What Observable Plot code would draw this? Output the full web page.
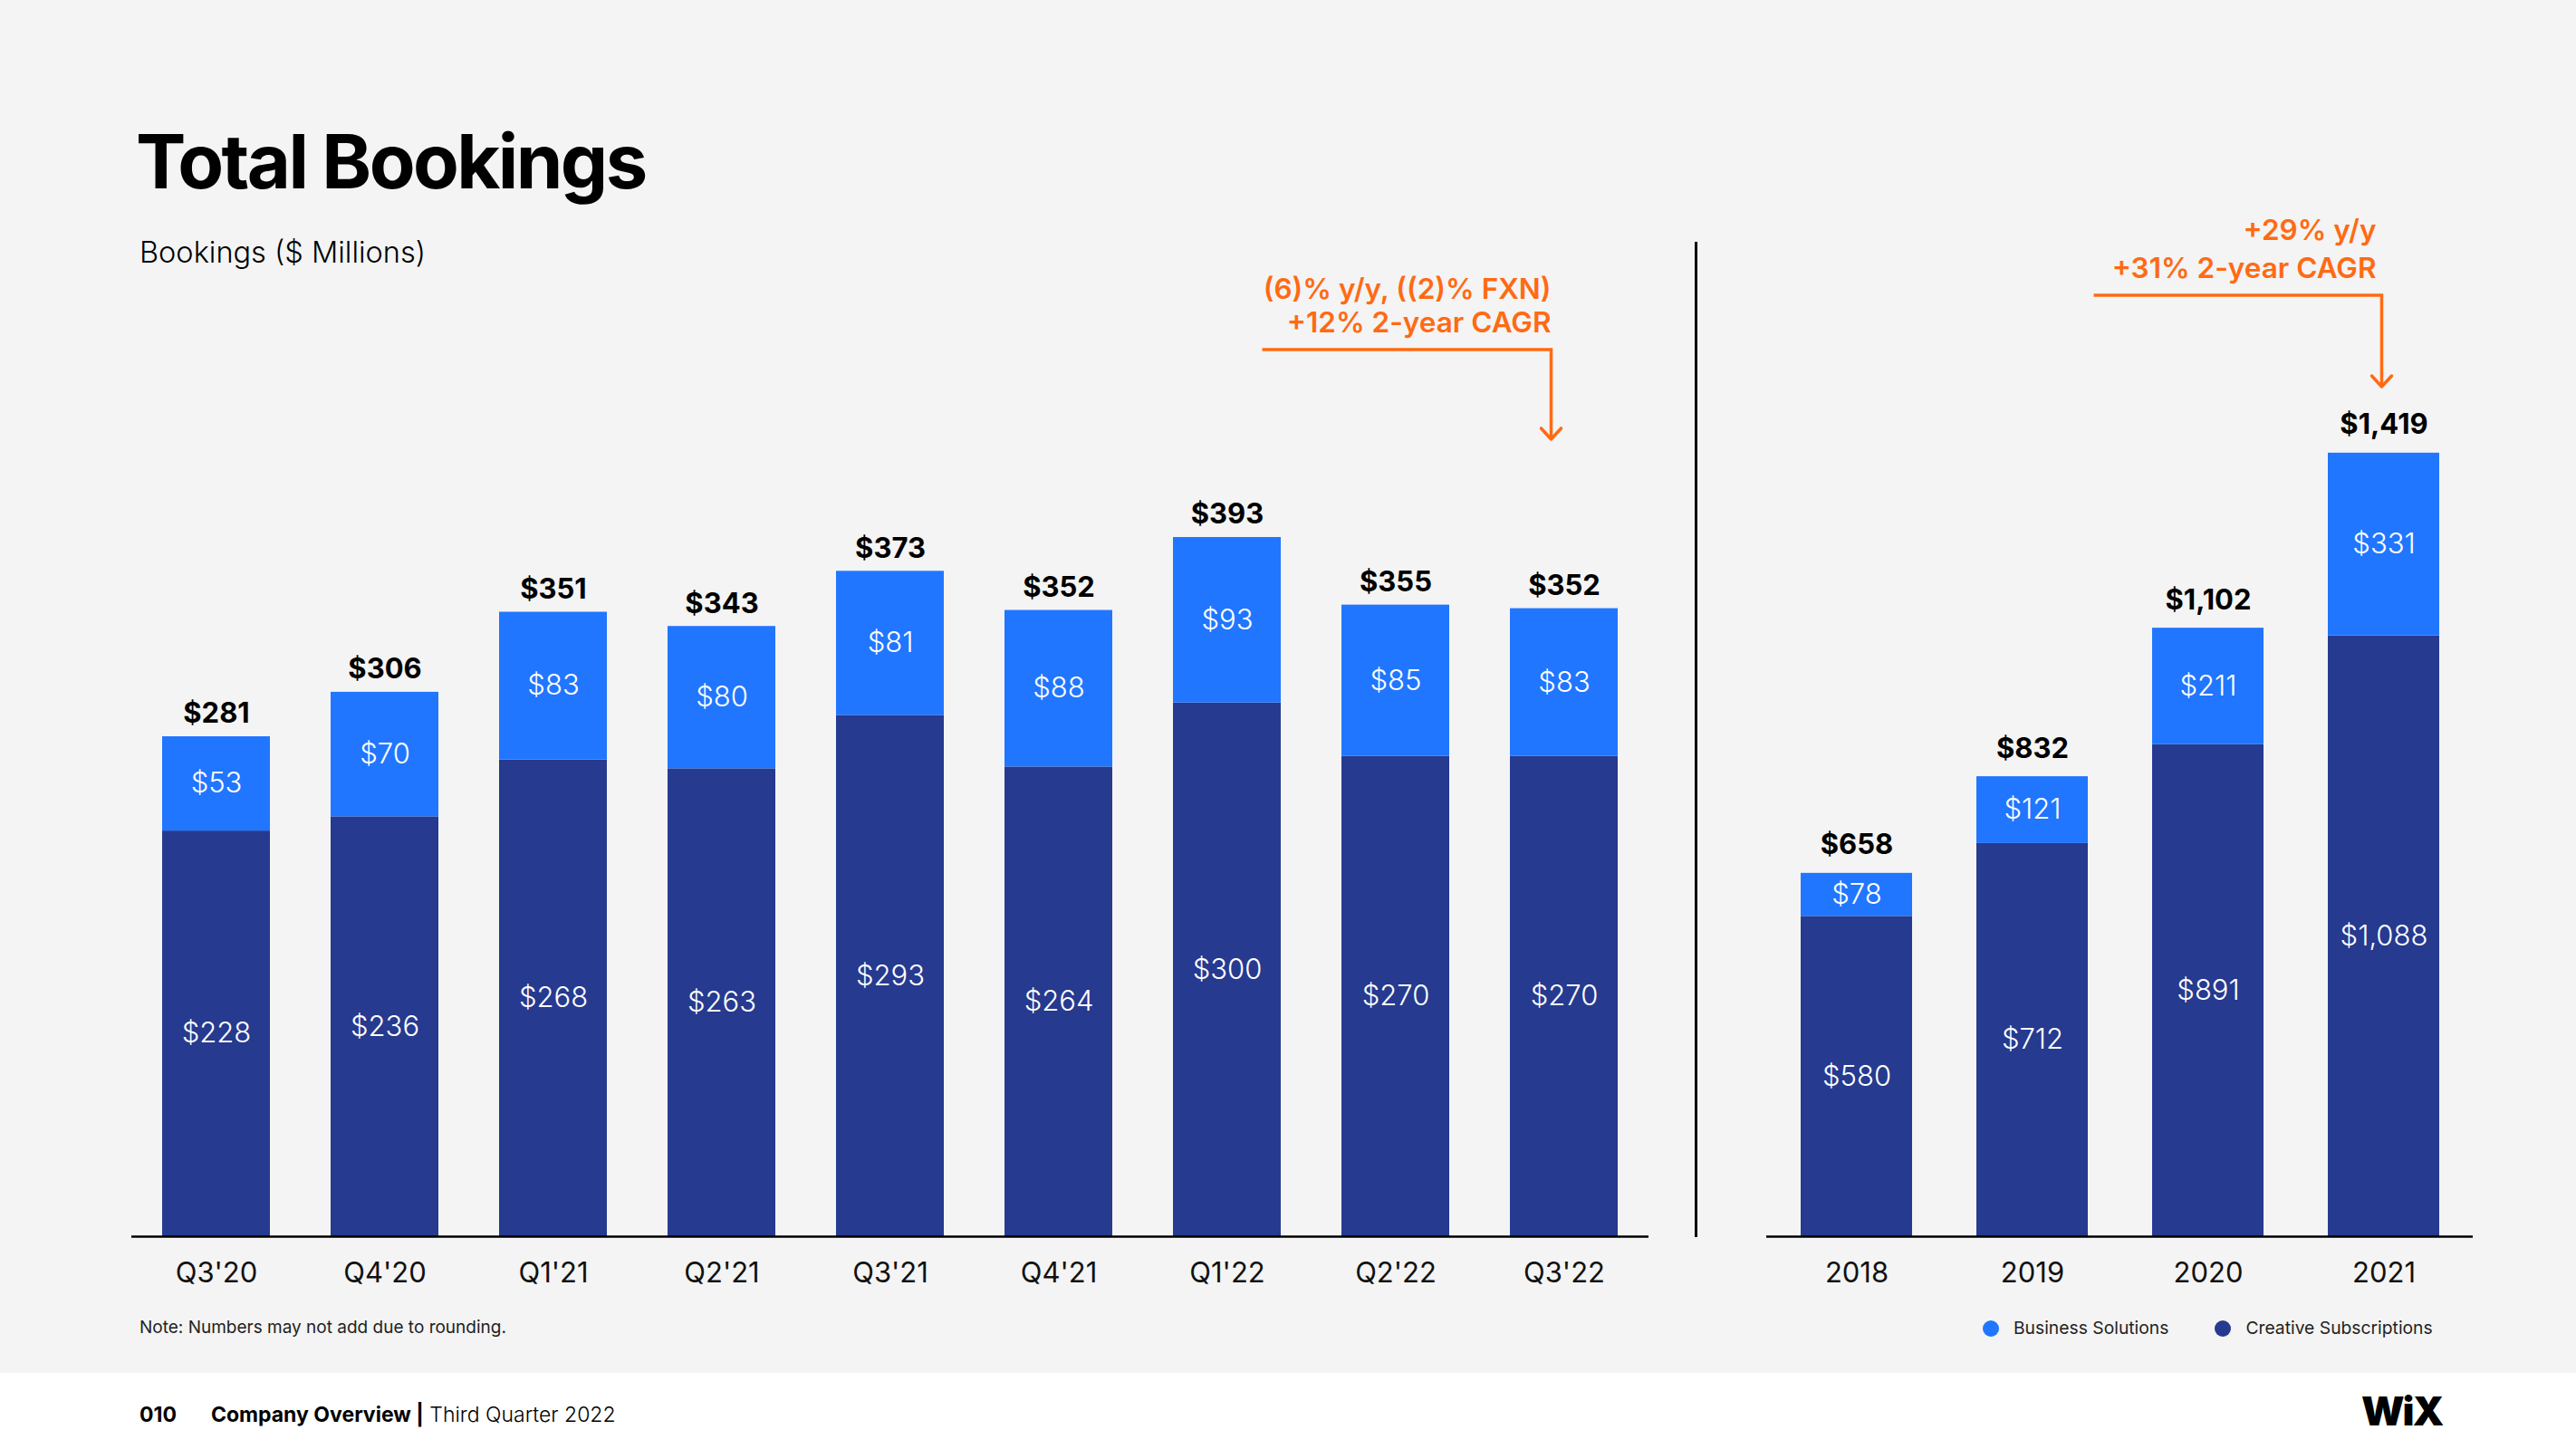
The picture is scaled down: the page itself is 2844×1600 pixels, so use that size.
<!DOCTYPE html>
<html><head><meta charset="utf-8">
<script src="https://cdn.jsdelivr.net/npm/d3@7"></script>
<script src="https://cdn.jsdelivr.net/npm/@observablehq/plot@0.6"></script>
<style>
html,body{margin:0;padding:0;}
body{width:2844px;height:1600px;position:relative;background:#fff;font-family:Inter,"Noto Sans",sans-serif;overflow:hidden;color:#000}
#bg{position:absolute;left:0;top:0;width:2844px;height:1516px;background:#f4f4f4}
.abs{position:absolute;white-space:nowrap;line-height:1}
#title{left:150px;top:137px;font-size:83px;font-weight:700;letter-spacing:-2.6px}
#subtitle{left:154px;top:263px;font-size:32.5px;font-weight:300}
#note{left:154px;top:1456px;font-size:19px;font-weight:400;color:#222}
#divider{position:absolute;left:1871px;top:267px;width:3px;height:1099px;background:#000}
#legend{left:2189px;top:1457px;font-size:19.3px;color:#222;display:flex;align-items:center}
#legend .sw{display:inline-block;width:18px;height:18px;border-radius:50%;margin-right:16px}
#legend .it{display:flex;align-items:center;margin-right:51px}
#footer{left:154px;top:1551px;font-size:23px;color:#000}
#footer b{font-weight:700}
#logo{left:2607px;top:1536px;font-size:44px;font-weight:900;letter-spacing:-2px}
.chart{position:absolute;top:200px}
</style></head><body>
<div id="bg"></div>
<div class="abs" id="title">Total Bookings</div>
<div class="abs" id="subtitle">Bookings ($ Millions)</div>
<div id="divider"></div>
<div class="abs" id="note">Note: Numbers may not add due to rounding.</div>
<div class="abs" id="legend"></div>
<div class="abs" id="footer"><b>010</b><span style="display:inline-block;width:38px"></span><b>Company Overview |</b> <span style="font-weight:300">Third Quarter 2022</span></div>
<div class="abs" id="logo">WiX</div>
<div class="chart" id="leftChart" style="left:0px"></div>
<div class="chart" id="rightChart" style="left:1900px"></div>
<script>
// ---- data ----
const quarters = ["Q3'20","Q4'20","Q1'21","Q2'21","Q3'21","Q4'21","Q1'22","Q2'22","Q3'22"];
const quarterCreative = [228,236,268,263,293,264,300,270,270];
const quarterBusiness = [53,70,83,80,81,88,93,85,83];
const quarterTotal = [281,306,351,343,373,352,393,355,352];

const years = ["2018","2019","2020","2021"];
const yearCreative = [580,712,891,1088];
const yearBusiness = [78,121,211,331];
const yearTotal = [658,832,1102,1419];

const seriesNames = ["Creative Subscriptions","Business Solutions"];
const seriesColors = ["#263a8f","#2176ff"];

const leftAnnotationLines = ["(6)% y/y, ((2)% FXN)", "+12% 2-year CAGR"];
const rightAnnotationLines = ["+29% y/y", "+31% 2-year CAGR"];
const orange = "#ff6a13";

const fmt = v => "$" + d3.format(",")(v);

function buildRows(periods, creative, business) {
  const rows = [];
  periods.forEach((p, i) => {
    rows.push({period: p, series: seriesNames[0], value: creative[i], mid: creative[i] / 2});
    rows.push({period: p, series: seriesNames[1], value: business[i], mid: creative[i] + business[i] / 2});
  });
  return rows;
}
const qRows = buildRows(quarters, quarterCreative, quarterBusiness);
const yRows = buildRows(years, yearCreative, yearBusiness);
const qTotals = quarters.map((p, i) => ({period: p, total: quarterTotal[i], top: quarterCreative[i] + quarterBusiness[i]}));
const yTotals = years.map((p, i) => ({period: p, total: yearTotal[i], top: yearCreative[i] + yearBusiness[i]}));

// annotation drawn through the plot's own scales
function annotation(cfg) {
  return (index, scales) => {
    const {x, y} = scales;
    const bw = x.bandwidth();
    const xr = x(cfg.target) + bw / 2 + cfg.dxEnd;
    const xl = x(cfg.start) + bw / 2 + cfg.dxStart;
    const yh = y(cfg.lineY), yt = y(cfg.tipY);
    const g = d3.create("svg:g");
    g.append("path").attr("d", `M${xl},${yh}H${xr}V${yt - 1}`)
      .attr("fill", "none").attr("stroke", orange).attr("stroke-width", 3.5);
    g.append("path").attr("d", `M${xr - 11},${yt - 12}L${xr},${yt}L${xr + 11},${yt - 12}`)
      .attr("fill", "none").attr("stroke", orange).attr("stroke-width", 3.5)
      .attr("stroke-linecap", "round").attr("stroke-linejoin", "round");
    cfg.lines.forEach((t, i) => {
      g.append("text").attr("x", xr + cfg.textDx).attr("y", y(cfg.textY[i]))
        .attr("text-anchor", "end").attr("fill", orange)
        .attr("font-size", 31.5).attr("font-weight", 600).text(t);
    });
    return g.node();
  };
}

function makeChart(opts) {
  return Plot.plot({
    width: opts.width, height: 1240,
    marginLeft: opts.marginLeft, marginRight: opts.marginRight, marginTop: 0, marginBottom: 75,
    style: {background: "transparent", fontFamily: "Inter, 'Noto Sans', sans-serif", fontSize: "31px", color: "#111", overflow: "visible"},
    x: {domain: opts.periods, paddingInner: opts.pi, paddingOuter: opts.po, align: 0.5, label: null, tickSize: 0, tickPadding: 28},
    y: {domain: [0, opts.ymax], axis: null},
    color: {domain: seriesNames, range: seriesColors},
    marks: [
      Plot.barY(opts.rows, {x: "period", y: "value", fill: "series"}),
      Plot.ruleY([0], {stroke: "#000", strokeWidth: 2.5}),
      Plot.text(opts.rows, {x: "period", y: "mid", text: d => fmt(d.value), fill: "white", fontSize: 31, fontWeight: 300}),
      Plot.text(opts.totals, {x: "period", y: "top", text: d => fmt(d.total), dy: opts.totalDy, fill: "#000", fontSize: 31, fontWeight: 700}),
      annotation(opts.anno)
    ]
  });
}

document.getElementById("leftChart").appendChild(makeChart({
  width: 1860, marginLeft: 145, marginRight: 40, pi: 0.36, po: 0.18, ymax: 593.06, totalDy: -25,
  periods: quarters, rows: qRows, totals: qTotals,
  anno: {target: "Q3'22", start: "Q1'22", dxEnd: -14, dxStart: 39, lineY: 498.4, tipY: 448, textY: [526.9, 508.0], textDx: 0, lines: leftAnnotationLines}
}));
document.getElementById("rightChart").appendChild(makeChart({
  width: 944, marginLeft: 50, marginRight: 114, pi: 0.368, po: 0.187, ymax: 1910.8, totalDy: -31,
  periods: years, rows: yRows, totals: yTotals,
  anno: {target: "2021", start: "2020", dxEnd: -2, dxStart: -126, lineY: 1704, tipY: 1538.5, textY: [1804, 1735], textDx: -6, lines: rightAnnotationLines}
}));

// legend
const legend = d3.select("#legend");
[1, 0].forEach(i => {
  const it = legend.append("div").attr("class", "it");
  it.append("span").attr("class", "sw").style("background", seriesColors[i]);
  it.append("span").text(seriesNames[i]);
});
</script>
</body></html>
